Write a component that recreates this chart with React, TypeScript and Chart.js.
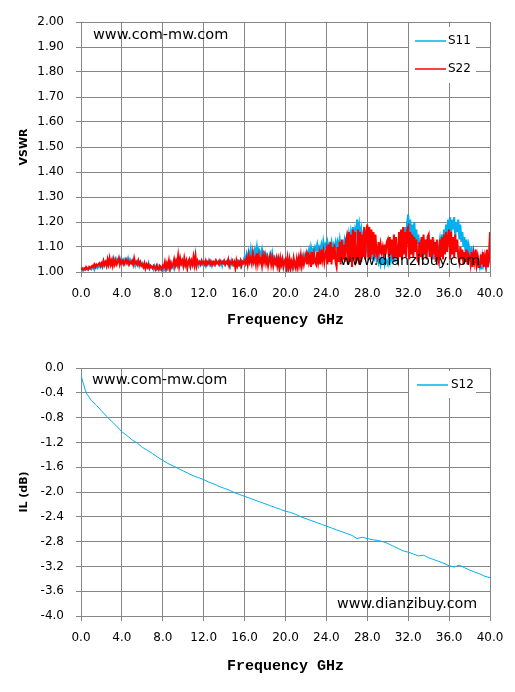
import { useEffect, useRef } from "react";
import { Chart, registerables } from "chart.js";

Chart.register(...registerables);

// ---------- data ----------
const VSWR_FREQ_STEP = 0.1; // GHz between samples of S11 / S22
const IL_FREQ_STEP = 0.5; // GHz between samples of S12

// one row = 1 GHz (10 samples), last value = 40.0 GHz
const S11 = [
  1.01, 1.01, 1.005, 1.01, 1.01, 1.015, 1.01, 1.01, 1.015, 1.015,
  1.01, 1.015, 1.02, 1.01, 1.025, 1.02, 1.015, 1.02, 1.03, 1.02,
  1.03, 1.02, 1.04, 1.025, 1.035, 1.04, 1.03, 1.045, 1.035, 1.04,
  1.03, 1.05, 1.035, 1.045, 1.055, 1.04, 1.05, 1.045, 1.055, 1.04,
  1.05, 1.04, 1.05, 1.035, 1.05, 1.04, 1.055, 1.035, 1.05, 1.04,
  1.035, 1.045, 1.04, 1.025, 1.04, 1.03, 1.045, 1.025, 1.04, 1.03,
  1.035, 1.02, 1.03, 1.015, 1.03, 1.02, 1.035, 1.015, 1.025, 1.02,
  1.02, 1.01, 1.025, 1.015, 1.01, 1.025, 1.01, 1.02, 1.01, 1.015,
  1.005, 1.02, 1.01, 1.025, 1.01, 1.02, 1.025, 1.01, 1.035, 1.02,
  1.03, 1.015, 1.04, 1.025, 1.03, 1.045, 1.025, 1.04, 1.03, 1.045,
  1.03, 1.045, 1.025, 1.04, 1.03, 1.045, 1.035, 1.02, 1.04, 1.03,
  1.04, 1.025, 1.045, 1.03, 1.04, 1.025, 1.04, 1.03, 1.045, 1.03,
  1.035, 1.04, 1.025, 1.04, 1.03, 1.045, 1.03, 1.04, 1.025, 1.04,
  1.04, 1.03, 1.045, 1.035, 1.04, 1.045, 1.03, 1.04, 1.025, 1.045,
  1.045, 1.03, 1.04, 1.045, 1.03, 1.04, 1.025, 1.045, 1.03, 1.04,
  1.04, 1.025, 1.04, 1.045, 1.03, 1.04, 1.025, 1.045, 1.04, 1.045,
  1.06, 1.04, 1.07, 1.05, 1.08, 1.06, 1.09, 1.05, 1.08, 1.07,
  1.09, 1.07, 1.1, 1.06, 1.09, 1.08, 1.07, 1.09, 1.06, 1.08,
  1.075, 1.055, 1.07, 1.06, 1.045, 1.07, 1.05, 1.075, 1.045, 1.06,
  1.05, 1.035, 1.055, 1.04, 1.05, 1.025, 1.04, 1.055, 1.035, 1.045,
  1.025, 1.04, 1.015, 1.03, 1.02, 1.04, 1.025, 1.03, 1.015, 1.03,
  1.04, 1.03, 1.05, 1.04, 1.06, 1.03, 1.06, 1.05, 1.07, 1.05,
  1.06, 1.08, 1.07, 1.09, 1.06, 1.1, 1.08, 1.09, 1.07, 1.1,
  1.09, 1.11, 1.08, 1.1, 1.09, 1.11, 1.08, 1.12, 1.09, 1.11,
  1.1, 1.12, 1.09, 1.11, 1.1, 1.12, 1.08, 1.11, 1.1, 1.12,
  1.09, 1.12, 1.1, 1.13, 1.09, 1.11, 1.12, 1.1, 1.13, 1.11,
  1.14, 1.11, 1.15, 1.12, 1.16, 1.13, 1.18, 1.14, 1.17, 1.15,
  1.21, 1.16, 1.19, 1.14, 1.17, 1.12, 1.15, 1.1, 1.14, 1.09,
  1.12, 1.08, 1.11, 1.06, 1.1, 1.05, 1.09, 1.06, 1.08, 1.05,
  1.07, 1.04, 1.06, 1.03, 1.05, 1.04, 1.06, 1.03, 1.05, 1.04,
  1.03, 1.06, 1.04, 1.07, 1.05, 1.08, 1.04, 1.09, 1.06, 1.1,
  1.08, 1.12, 1.09, 1.14, 1.1, 1.16, 1.12, 1.18, 1.14, 1.2,
  1.23, 1.16, 1.21, 1.14, 1.19, 1.13, 1.2, 1.12, 1.17, 1.11,
  1.15, 1.09, 1.13, 1.08, 1.14, 1.07, 1.12, 1.06, 1.13, 1.08,
  1.15, 1.07, 1.12, 1.06, 1.11, 1.05, 1.1, 1.07, 1.12, 1.06,
  1.1, 1.13, 1.08, 1.15, 1.1, 1.17, 1.12, 1.19, 1.14, 1.21,
  1.16, 1.22, 1.15, 1.21, 1.17, 1.22, 1.14, 1.2, 1.16, 1.21,
  1.13, 1.19, 1.12, 1.16, 1.1, 1.14, 1.08, 1.13, 1.07, 1.11,
  1.09, 1.05, 1.1, 1.04, 1.08, 1.05, 1.07, 1.03, 1.06, 1.04,
  1.02, 1.05, 1.01, 1.06, 1.03, 1.05, 1.02, 1.07, 1.03, 1.04,
  1.14,
];

const S22 = [
  1.01, 1.015, 1.01, 1.015, 1.01, 1.02, 1.015, 1.01, 1.02, 1.015,
  1.02, 1.025, 1.02, 1.03, 1.02, 1.03, 1.025, 1.03, 1.035, 1.025,
  1.035, 1.025, 1.045, 1.03, 1.04, 1.025, 1.05, 1.03, 1.055, 1.03,
  1.045, 1.025, 1.05, 1.03, 1.045, 1.03, 1.04, 1.055, 1.03, 1.045,
  1.035, 1.045, 1.03, 1.04, 1.05, 1.035, 1.045, 1.03, 1.04, 1.035,
  1.045, 1.03, 1.055, 1.035, 1.04, 1.03, 1.045, 1.03, 1.04, 1.025,
  1.03, 1.02, 1.035, 1.015, 1.03, 1.02, 1.03, 1.015, 1.025, 1.02,
  1.015, 1.025, 1.02, 1.01, 1.025, 1.015, 1.01, 1.025, 1.02, 1.01,
  1.025, 1.02, 1.04, 1.015, 1.035, 1.02, 1.045, 1.015, 1.035, 1.02,
  1.03, 1.05, 1.025, 1.045, 1.03, 1.065, 1.025, 1.055, 1.035, 1.045,
  1.025, 1.055, 1.03, 1.045, 1.015, 1.04, 1.05, 1.025, 1.045, 1.03,
  1.06, 1.03, 1.065, 1.025, 1.045, 1.035, 1.04, 1.03, 1.045, 1.035,
  1.04, 1.03, 1.045, 1.03, 1.04, 1.035, 1.045, 1.03, 1.04, 1.03,
  1.04, 1.03, 1.045, 1.035, 1.04, 1.03, 1.045, 1.035, 1.04, 1.035,
  1.045, 1.03, 1.04, 1.035, 1.05, 1.025, 1.04, 1.035, 1.045, 1.03,
  1.04, 1.015, 1.045, 1.025, 1.04, 1.03, 1.045, 1.025, 1.04, 1.035,
  1.045, 1.035, 1.055, 1.03, 1.065, 1.04, 1.055, 1.035, 1.075, 1.04,
  1.055, 1.03, 1.075, 1.035, 1.065, 1.04, 1.055, 1.025, 1.065, 1.04,
  1.065, 1.035, 1.055, 1.025, 1.05, 1.065, 1.03, 1.055, 1.025, 1.05,
  1.035, 1.055, 1.025, 1.05, 1.015, 1.055, 1.03, 1.05, 1.02, 1.04,
  1.05, 1.015, 1.055, 1.02, 1.05, 1.015, 1.04, 1.02, 1.055, 1.03,
  1.015, 1.05, 1.02, 1.055, 1.03, 1.065, 1.025, 1.055, 1.03, 1.05,
  1.07, 1.03, 1.08, 1.04, 1.06, 1.02, 1.08, 1.03, 1.07, 1.04,
  1.03, 1.08, 1.04, 1.07, 1.03, 1.09, 1.05, 1.08, 1.04, 1.07,
  1.09, 1.03, 1.11, 1.04, 1.12, 1.03, 1.1, 1.05, 1.11, 1.04,
  1.02, 1.1, 1.04, 1.12, 1.03, 1.13, 1.05, 1.11, 1.04, 1.12,
  1.14, 1.03, 1.16, 1.04, 1.15, 1.02, 1.17, 1.05, 1.16, 1.04,
  1.05, 1.17, 1.03, 1.16, 1.04, 1.15, 1.06, 1.18, 1.05, 1.16,
  1.19, 1.06, 1.18, 1.05, 1.17, 1.07, 1.16, 1.06, 1.15, 1.08,
  1.06, 1.12, 1.07, 1.11, 1.08, 1.1, 1.06, 1.11, 1.07, 1.12,
  1.13, 1.06, 1.14, 1.07, 1.13, 1.05, 1.15, 1.06, 1.14, 1.07,
  1.05, 1.16, 1.06, 1.17, 1.05, 1.18, 1.07, 1.16, 1.06, 1.17,
  1.18, 1.05, 1.16, 1.07, 1.15, 1.06, 1.14, 1.08, 1.13, 1.05,
  1.04, 1.12, 1.06, 1.14, 1.05, 1.15, 1.07, 1.13, 1.05, 1.14,
  1.15, 1.06, 1.13, 1.05, 1.14, 1.07, 1.12, 1.04, 1.13, 1.06,
  1.04, 1.13, 1.06, 1.14, 1.05, 1.15, 1.07, 1.16, 1.08, 1.14,
  1.17, 1.05, 1.16, 1.07, 1.14, 1.06, 1.15, 1.08, 1.13, 1.06,
  1.04, 1.1, 1.05, 1.09, 1.03, 1.08, 1.04, 1.09, 1.03, 1.07,
  1.06, 1.03, 1.08, 1.02, 1.07, 1.04, 1.09, 1.03, 1.06, 1.02,
  1.02, 1.07, 1.03, 1.08, 1.02, 1.06, 1.03, 1.09, 1.02, 1.05,
  1.16,
];

const S12 = [
  -0.12, -0.4, -0.52, -0.6, -0.69, -0.78, -0.86, -0.94, -1.03, -1.09,
  -1.16, -1.21, -1.28, -1.33, -1.38, -1.44, -1.49, -1.54, -1.58, -1.62,
  -1.66, -1.7, -1.74, -1.77, -1.8, -1.84, -1.87, -1.91, -1.94, -1.97,
  -2.01, -2.04, -2.07, -2.1, -2.13, -2.16, -2.19, -2.22, -2.25, -2.28,
  -2.31, -2.33, -2.36, -2.4, -2.43, -2.46, -2.49, -2.52, -2.55, -2.58,
  -2.61, -2.64, -2.67, -2.7, -2.75, -2.73, -2.75, -2.77, -2.78, -2.8,
  -2.83, -2.87, -2.91, -2.95, -2.97, -3.0, -3.03, -3.02, -3.06, -3.09,
  -3.12, -3.15, -3.19, -3.21, -3.18, -3.22, -3.26, -3.29, -3.32, -3.36,
  -3.38,
];

const X_MIN = 0;
const X_MAX = 40;
const X_STEP = 4;
const VSWR_MIN = 1.0;
const VSWR_MAX = 2.0;
const VSWR_STEP = 0.1;
const IL_MIN = -4.0;
const IL_MAX = 0.0;
const IL_STEP = 0.4;

const SERIES_TOP = ["S11", "S22"];
const SERIES_BOTTOM = ["S12"];
const X_TITLE = "Frequency GHz";
const Y_TITLE_TOP = "VSWR";
const Y_TITLE_BOTTOM = "IL (dB)";
const WATERMARK_1 = "www.com-mw.com";
const WATERMARK_2 = "www.dianzibuy.com";

// ---------- styling ----------
const BLUE = "#00b0f0";
const RED = "#ff0000";
const GRID = "#868686";
const TICK_FONT = { family: "DejaVu Sans", size: 12 };

const toPoints = (values: number[], step: number) =>
  values.map((v, i) => ({ x: Math.round(i * step * 100) / 100, y: v }));

type Overlay = {
  marks: { text: string; x: number; y: number; size: number }[];
  box: { x: number; y: number; w: number; h: number };
  items: { label: string; color: string; y: number; x0: number; x1: number; tx: number }[];
};

const overlayPlugin = (ov: Overlay) => ({
  id: "overlay",
  afterDraw(chart: any) {
    const ctx = chart.ctx as CanvasRenderingContext2D;
    ctx.save();
    ctx.fillStyle = "#ffffff";
    ctx.fillRect(ov.box.x, ov.box.y, ov.box.w, ov.box.h);
    ctx.textBaseline = "middle";
    ctx.textAlign = "left";
    ov.items.forEach((it) => {
      ctx.strokeStyle = it.color;
      ctx.lineWidth = 1.5;
      ctx.beginPath();
      ctx.moveTo(it.x0, it.y);
      ctx.lineTo(it.x1, it.y);
      ctx.stroke();
      ctx.fillStyle = "#000";
      ctx.font = "12px 'DejaVu Sans'";
      ctx.fillText(it.label, it.tx, it.y);
    });
    ov.marks.forEach((m) => {
      ctx.fillStyle = "#000";
      ctx.font = `${m.size}px 'DejaVu Sans'`;
      ctx.fillText(m.text, m.x, m.y);
    });
    ctx.restore();
  },
});

const xScale = (h: number) => ({
  type: "linear" as const,
  min: X_MIN,
  max: X_MAX,
  afterFit: (s: any) => {
    s.height = h;
  },
  ticks: {
    stepSize: X_STEP,
    padding: 10,
    color: "#000",
    font: TICK_FONT,
    maxRotation: 0,
    callback: (v: any) => Number(v).toFixed(1),
  },
  grid: { color: GRID, lineWidth: 1, tickLength: 5, drawTicks: true },
  border: { color: GRID, width: 1 },
  title: {
    display: true,
    text: X_TITLE,
    color: "#000",
    font: { family: "Liberation Mono", size: 15, weight: "bold" as const },
    padding: { top: 0, bottom: 17 },
  },
});

const yScale = (min: number, max: number, step: number, digits: number, title: string) => ({
  type: "linear" as const,
  min,
  max,
  afterFit: (s: any) => {
    s.width = 81;
  },
  ticks: {
    stepSize: step,
    padding: 12,
    color: "#000",
    font: TICK_FONT,
    callback: (v: any) => {
      const n = Number(v);
      return (Math.abs(n) < 1e-9 ? 0 : n).toFixed(digits);
    },
  },
  grid: { color: GRID, lineWidth: 1, tickLength: 5, drawTicks: true },
  border: { color: GRID, width: 1 },
  title: {
    display: true,
    text: title,
    color: "#000",
    font: { family: "DejaVu Sans", size: 11, weight: "bold" as const },
    padding: { top: 18, bottom: 0 },
  },
});

function TopChart() {
  const ref = useRef<HTMLCanvasElement>(null);
  useEffect(() => {
    const chart = new Chart(ref.current!, {
      type: "line",
      data: {
        datasets: [
          {
            label: SERIES_TOP[0],
            data: toPoints(S11, VSWR_FREQ_STEP),
            borderColor: BLUE,
            borderWidth: 2,
            pointRadius: 0,
            tension: 0,
            order: 2,
          },
          {
            label: SERIES_TOP[1],
            data: toPoints(S22, VSWR_FREQ_STEP),
            borderColor: RED,
            borderWidth: 2,
            pointRadius: 0,
            tension: 0,
            order: 1,
          },
        ],
      },
      options: {
        responsive: false,
        animation: false,
        layout: { padding: { top: 22, right: 25, left: 0, bottom: 0 } },
        plugins: { legend: { display: false }, tooltip: { enabled: false } },
        scales: {
          x: xScale(74),
          y: yScale(VSWR_MIN, VSWR_MAX, VSWR_STEP, 2, Y_TITLE_TOP),
        },
      },
      plugins: [
        overlayPlugin({
          marks: [
            { text: WATERMARK_1, x: 93, y: 35, size: 14.5 },
            { text: WATERMARK_2, x: 340, y: 261, size: 14.3 },
          ],
          box: { x: 409, y: 27, w: 67, h: 56 },
          items: [
            { label: SERIES_TOP[0], color: BLUE, y: 41, x0: 415, x1: 446, tx: 448 },
            { label: SERIES_TOP[1], color: RED, y: 69, x0: 415, x1: 446, tx: 448 },
          ],
        }),
      ],
    } as any);
    return () => chart.destroy();
  }, []);
  return <canvas ref={ref} width={515} height={346} style={{ display: "block" }} />;
}

function BottomChart() {
  const ref = useRef<HTMLCanvasElement>(null);
  useEffect(() => {
    const chart = new Chart(ref.current!, {
      type: "line",
      data: {
        datasets: [
          {
            label: SERIES_BOTTOM[0],
            data: toPoints(S12, IL_FREQ_STEP),
            borderColor: BLUE,
            borderWidth: 1,
            pointRadius: 0,
            tension: 0,
          },
        ],
      },
      options: {
        responsive: false,
        animation: false,
        layout: { padding: { top: 22, right: 25, left: 0, bottom: 0 } },
        plugins: { legend: { display: false }, tooltip: { enabled: false } },
        scales: {
          x: xScale(76),
          y: yScale(IL_MIN, IL_MAX, IL_STEP, 1, Y_TITLE_BOTTOM),
        },
      },
      plugins: [
        overlayPlugin({
          marks: [
            { text: WATERMARK_1, x: 92, y: 34, size: 14.5 },
            { text: WATERMARK_2, x: 337, y: 258, size: 14.3 },
          ],
          box: { x: 409, y: 25, w: 67, h: 27 },
          items: [
            { label: SERIES_BOTTOM[0], color: BLUE, y: 39, x0: 417, x1: 448, tx: 451 },
          ],
        }),
      ],
    } as any);
    return () => chart.destroy();
  }, []);
  return <canvas ref={ref} width={515} height={346} style={{ display: "block" }} />;
}

export default function App() {
  return (
    <div
      style={{
        position: "absolute",
        left: 0,
        top: 0,
        width: 515,
        height: 692,
        background: "#fff",
      }}
    >
      <TopChart />
      <BottomChart />
    </div>
  );
}
